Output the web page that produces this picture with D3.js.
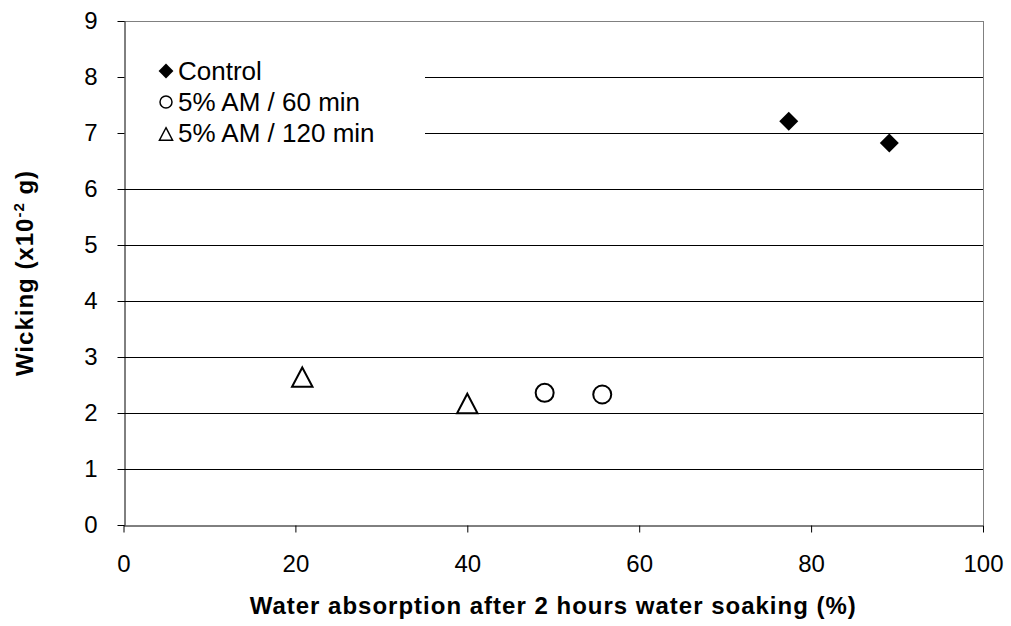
<!DOCTYPE html>
<html>
<head>
<meta charset="utf-8">
<script src="https://cdn.jsdelivr.net/npm/d3@7"></script>
<style>
  html, body { margin: 0; padding: 0; background: #fff; }
  svg { display: block; font-family: "Liberation Sans", Arial, sans-serif; }
</style>
</head>
<body>
<svg id="chart" width="1011" height="626"></svg>
<script>
// Water absorption (%) vs wicking (x10^-2 g)
const controlX = [77.4, 89.1];
const controlY = [7.21, 6.82];
const am60X = [49.0, 55.7];
const am60Y = [2.36, 2.33];
const am120X = [20.8, 40.0];
const am120Y = [2.64, 2.17];
const xTicks = [0, 20, 40, 60, 80, 100];
const yTicks = [0, 1, 2, 3, 4, 5, 6, 7, 8, 9];
const seriesNames = ["Control", "5% AM / 60 min", "5% AM / 120 min"];

const svg = d3.select("#chart");
const W = 1011, H = 626;
const margin = { left: 123.5, right: W - 983, top: 21, bottom: H - 525 };

const x = d3.scaleLinear().domain([0, 100]).range([margin.left, W - margin.right]);
const y = d3.scaleLinear().domain([0, 9]).range([H - margin.bottom, margin.top]);

// Open triangle centred on its bounding box
const boxTriangle = {
  draw(ctx, size) {
    const w = Math.sqrt(size * 2.2), h = w * 0.95;
    ctx.moveTo(0, -h / 2);
    ctx.lineTo(w / 2, h / 2);
    ctx.lineTo(-w / 2, h / 2);
    ctx.closePath();
  }
};

// Horizontal gridlines (upper ones stop short of the legend)
svg.append("g").selectAll("line")
  .data(yTicks.filter(t => t > 0 && t < 9))
  .join("line")
  .attr("x1", d => d >= 7 ? 425 : x(0))
  .attr("x2", x(100))
  .attr("y1", d => Math.round(y(d)) + 0.5)
  .attr("y2", d => Math.round(y(d)) + 0.5)
  .attr("stroke", "#000")
  .attr("stroke-width", 1);

// Plot frame: grey top and right edges
svg.append("line").attr("x1", x(0)).attr("x2", x(100))
  .attr("y1", Math.round(y(9)) + 0.5).attr("y2", Math.round(y(9)) + 0.5)
  .attr("stroke", "#808080");
svg.append("line").attr("x1", Math.round(x(100)) + 0.5).attr("x2", Math.round(x(100)) + 0.5)
  .attr("y1", y(9)).attr("y2", y(0))
  .attr("stroke", "#808080");

// Axes
const xAxis = svg.append("g")
  .attr("transform", `translate(0,${Math.round(y(0)) + 0.5})`)
  .call(d3.axisBottom(x).tickValues(xTicks).tickSize(7).tickSizeOuter(0));
const yAxis = svg.append("g")
  .attr("transform", `translate(${Math.round(x(0)) + 0.5},0)`)
  .call(d3.axisLeft(y).tickValues(yTicks).tickSize(7).tickSizeOuter(0).tickPadding(20));

[xAxis, yAxis].forEach(g => {
  g.select(".domain").attr("stroke", "#000").attr("stroke-width", 1);
  g.selectAll(".tick line").attr("stroke", "#000");
  g.selectAll(".tick text")
    .attr("fill", "#000")
    .style("font-family", "'Liberation Sans', Arial, sans-serif")
    .style("font-size", "24px");
});
xAxis.selectAll(".tick text").attr("dy", null).attr("y", 46);

// Axis titles
svg.append("text")
  .attr("x", (x(0) + x(100)) / 2)
  .attr("y", 614)
  .attr("text-anchor", "middle")
  .style("font-size", "24px")
  .style("font-weight", "bold")
  .style("letter-spacing", "1px")
  .text("Water absorption after 2 hours water soaking (%)");

const yt = svg.append("text")
  .attr("transform", `translate(33,${(y(0) + y(9)) / 2}) rotate(-90)`)
  .attr("text-anchor", "middle")
  .style("font-size", "24px")
  .style("font-weight", "bold")
  .style("letter-spacing", "1px");
yt.append("tspan").text("Wicking (x10");
yt.append("tspan").attr("dy", -9).style("font-size", "15px").text("-2");
yt.append("tspan").attr("dy", 9).text(" g)");

// Markers
const pts = svg.append("g");
pts.selectAll("path.ctrl")
  .data(d3.zip(controlX, controlY))
  .join("path")
  .attr("class", "ctrl")
  .attr("d", d3.symbol().type(d3.symbolDiamond2).size(230))
  .attr("transform", d => `translate(${x(d[0])},${y(d[1])})`)
  .attr("fill", "#000");

pts.selectAll("circle.am60")
  .data(d3.zip(am60X, am60Y))
  .join("circle")
  .attr("class", "am60")
  .attr("cx", d => x(d[0]))
  .attr("cy", d => y(d[1]))
  .attr("r", 9)
  .attr("fill", "none")
  .attr("stroke", "#000")
  .attr("stroke-width", 2);

pts.selectAll("path.am120")
  .data(d3.zip(am120X, am120Y))
  .join("path")
  .attr("class", "am120")
  .attr("d", d3.symbol().type(boxTriangle).size(190))
  .attr("transform", d => `translate(${x(d[0])},${y(d[1])})`)
  .attr("fill", "none")
  .attr("stroke", "#000")
  .attr("stroke-width", 2);

// Legend
const rowY = [71, 102, 133];
const lg = svg.append("g").selectAll("g")
  .data(seriesNames)
  .join("g")
  .attr("transform", (d, i) => `translate(166,${rowY[i]})`);

lg.each(function (d, i) {
  const g = d3.select(this);
  if (i === 0) {
    g.append("path").attr("d", d3.symbol().type(d3.symbolDiamond2).size(140)).attr("fill", "#000");
  } else if (i === 1) {
    g.append("circle").attr("r", 6).attr("fill", "none").attr("stroke", "#000").attr("stroke-width", 1.5);
  } else {
    g.append("path").attr("d", d3.symbol().type(boxTriangle).size(80))
      .attr("transform", "translate(0,1)")
      .attr("fill", "none").attr("stroke", "#000").attr("stroke-width", 1.4);
  }
  g.append("text")
    .attr("x", 12)
    .attr("dy", "0.36em")
    .style("font-size", "26px")
    .text(d);
});
</script>
</body>
</html>
